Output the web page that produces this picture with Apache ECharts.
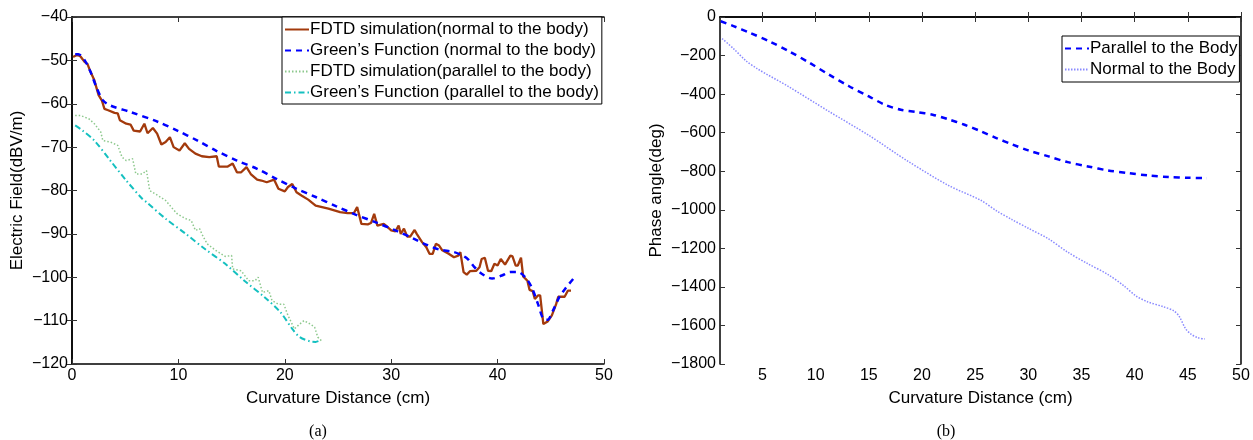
<!DOCTYPE html>
<html>
<head>
<meta charset="utf-8">
<script src="https://cdn.jsdelivr.net/npm/echarts@6/dist/echarts.min.js"></script>
<style>
  html, body { margin: 0; padding: 0; background: #fff; }
  #chart { width: 1253px; height: 440px; }
</style>
</head>
<body>
<div id="chart"></div>
<script>
  // (a) field strength, [distance cm, dBV/m]
  var fdtdNormal = [
    [0.1,-49.2],[0.5,-48.7],[0.8,-49.1],[1.2,-50.4],[1.45,-50.8],[1.75,-52.7],[2.1,-54.6],[2.5,-58],
    [2.8,-59.2],[3.05,-61.2],[3.4,-61.5],[4.0,-62.1],[4.3,-62.2],[4.5,-63.8],[5.1,-64.6],[5.5,-64.8],
    [5.8,-66.2],[6.4,-66.4],[6.8,-64.6],[7.1,-66.8],[7.6,-65.6],[8.0,-66.9],[8.4,-69.4],[8.8,-68.8],
    [9.2,-67.7],[9.55,-70],[10.1,-70.8],[10.6,-69.1],[11.0,-70.4],[11.6,-71.5],[12.2,-72.1],[12.9,-72.3],
    [13.6,-72.1],[13.8,-74.5],[14.6,-74.5],[15.1,-73.8],[15.5,-75.8],[15.9,-75.8],[16.4,-74.6],[16.8,-76.2],
    [17.4,-77.5],[17.8,-77.7],[18.3,-78.1],[19.0,-77.5],[19.4,-79.6],[20.0,-80.2],[20.3,-79.2],[20.7,-78.5],
    [21.1,-80.4],[21.6,-81.2],[22.2,-82.1],[22.9,-83.5],[24.1,-84.2],[25.2,-85],[25.9,-85.2],[26.5,-85.2],
    [26.8,-83.8],[27.2,-87.7],[27.8,-87.8],[28.1,-87.5],[28.4,-85.4],[28.7,-88.1],[29.3,-87.7],[29.6,-88.3],
    [30,-89.2],[30.4,-89.4],[30.7,-88.1],[30.9,-90],[31.2,-88.8],[31.5,-90.6],[31.8,-90.6],[32.2,-89.1],
    [32.4,-90],[32.9,-91.9],[33.3,-93.1],[33.6,-94.6],[33.9,-94.6],[34.2,-92.3],[34.5,-92.7],[34.8,-93.8],
    [35.4,-94.6],[35.9,-95.4],[36.3,-95],[36.5,-94.2],[36.8,-98.8],[37.1,-99.4],[37.4,-98.6],[38,-98.5],
    [38.3,-97.7],[38.5,-95.8],[38.8,-95.5],[39.1,-98.5],[39.4,-98.6],[39.7,-96.9],[40.0,-97.3],[40.3,-95.8],
    [40.7,-97.1],[41.2,-95],[41.4,-95.2],[41.7,-97.3],[41.9,-97.3],[42.2,-95.5],[42.4,-99.8],[42.8,-100.8],
    [43.0,-102.9],[43.3,-103.2],[43.5,-105],[43.8,-104.2],[44.0,-104.2],[44.3,-110.8],[44.7,-110.2],
    [45.1,-108.8],[45.5,-106.2],[45.7,-104.5],[46.3,-104.5],[46.6,-103.1],[46.9,-103.1]
  ];
  var greenNormal = [
    [0.3,-48.6],[0.6,-48.6],[1.2,-50],[1.75,-52.7],[2.3,-56.2],[2.9,-59.2],[3.6,-60.4],[5.5,-61.9],
    [8.1,-64.2],[9.9,-66.2],[11.8,-68.5],[13.6,-70.9],[15.5,-73.1],[17.4,-75],[19.2,-77.3],[21.1,-79.6],
    [22.9,-81.5],[24.8,-83.6],[26.7,-85.6],[28.5,-87.3],[30.4,-89.2],[32.2,-91.2],[33.3,-92.5],[34.5,-93.6],
    [35.9,-94.2],[36.7,-95],[37.2,-95.8],[37.8,-97.6],[38.5,-99.2],[39.5,-100.3],[40.4,-99.6],[41.2,-98.8],
    [41.9,-98.8],[42.6,-100],[43.2,-102.3],[43.8,-106.2],[44.3,-109.6],[44.7,-109.8],[45.2,-107.7],
    [45.8,-104.6],[46.4,-102.5],[47.1,-100.4]
  ];
  var fdtdParallel = [
    [0.3,-62.7],[0.8,-62.7],[1.6,-63.5],[2.1,-64.6],[2.7,-66.5],[2.9,-68.5],[3.6,-68.8],[4.3,-69.6],
    [4.7,-72.3],[5.1,-73.1],[5.7,-72.7],[6.0,-76.2],[6.6,-76.2],[7.0,-75.4],[7.3,-80],[8.1,-81.2],
    [8.8,-82.3],[9.6,-84.6],[9.9,-85.4],[10.7,-86.5],[11.2,-86.9],[11.6,-89.2],[12,-88.8],[12.2,-90],
    [12.7,-92.3],[13.5,-93.8],[14.4,-95.2],[15.0,-95],[15.1,-98.1],[15.9,-98.5],[16.6,-100.8],[17.2,-100.8],
    [17.5,-100],[17.9,-103.5],[18.5,-103.1],[18.8,-105.4],[19.4,-106.2],[19.9,-106.2],[20.3,-108.8],
    [20.9,-111.9],[21.4,-110.8],[21.8,-110],[22.4,-110.8],[22.8,-111.5],[23.1,-113.8],[23.5,-114.8]
  ];
  var greenParallel = [
    [0.3,-65],[1.0,-66.2],[2.1,-68.5],[3.6,-73.1],[5.1,-77.7],[6.6,-81.9],[7.0,-82.7],[8.8,-86.5],
    [10.7,-90],[12.5,-93.5],[14.4,-96.9],[16.2,-100.8],[18.1,-104.6],[19.6,-108.1],[20.7,-111.9],
    [21.4,-113.8],[22.4,-114.8],[22.9,-114.9],[23.3,-114.6]
  ];

  // (b) phase angle, [distance cm, deg]
  var phaseParallel = [
    [1.07,-22],[2.27,-47],[3.76,-81],[5.64,-126],[7.5,-178],[9.4,-237],[11.25,-299],[13.1,-358],
    [15.0,-412],[16.5,-455],[18.0,-481],[19.5,-493],[21.0,-507],[22.5,-531],[24.0,-559],[25.5,-592],
    [27.0,-628],[28.5,-661],[30.0,-692],[31.9,-723],[33.7,-753],[35.6,-775],[37.5,-796],[39.4,-810],
    [41.3,-822],[43.2,-830],[45.1,-834],[46.8,-836]
  ];
  var phaseNormal = [
    [1.2,-112],[2.27,-164],[3.4,-225],[4.5,-268],[7.5,-363],[11.25,-490],[15.0,-614],[18.7,-749],
    [22.5,-874],[25.5,-950],[27.0,-1005],[28.5,-1052],[30.0,-1096],[31.9,-1151],[33.7,-1220],
    [35.6,-1280],[37.5,-1336],[39.0,-1395],[40.1,-1446],[41.2,-1477],[42.7,-1503],[43.7,-1525],
    [44.2,-1554],[44.8,-1618],[45.3,-1645],[45.9,-1663],[46.6,-1670]
  ];

  var ticksB = [5, 10, 15, 20, 25, 30, 35, 40, 45, 50];

  var FONT = '"Liberation Sans", Arial, sans-serif';
  var minus = function (v) { return String(v).replace('-', '\u2212'); };

  var axisBase = {
    type: 'value',
    axisLine: { show: true, lineStyle: { color: '#000', width: 1.5 } },
    axisTick: { show: true, inside: true, length: 5, lineStyle: { color: '#333' } },
    splitLine: { show: false },
    axisLabel: { color: '#000', fontFamily: FONT, fontSize: 16, margin: 4, formatter: minus },
    nameTextStyle: { color: '#000', fontFamily: FONT, fontSize: 17 }
  };
  function ax(extra) { return echarts.util.merge(echarts.util.clone(axisBase), extra, true); }
  function mirror(extra) {
    return ax(echarts.util.merge({ axisLabel: { show: false } }, extra, true));
  }
  var legendBase = {
    orient: 'vertical', backgroundColor: '#fff', borderColor: '#000', borderWidth: 1, borderRadius: 0,
    itemGap: 4, itemWidth: 24, itemHeight: 17,
    itemStyle: { opacity: 0 },
    textStyle: { fontFamily: FONT, fontSize: 17, lineHeight: 17, color: '#000', padding: [0, 0, 0, -4] }
  };
  var titleStyle = { fontFamily: '"Liberation Serif", "DejaVu Serif", serif', fontSize: 16, fontWeight: 'normal', color: '#000' };

  var myChart = echarts.init(document.getElementById('chart'));
  var option = {
    animation: false,
    backgroundColor: '#fff',
    title: [
      { text: '(a)', left: 313, top: 419, textAlign: 'center', textStyle: titleStyle },
      { text: '(b)', left: 941, top: 419, textAlign: 'center', textStyle: titleStyle }
    ],
    grid: [
      { left: 72, right: 649, top: 17, bottom: 76 },
      { left: 720, right: 12, top: 17, bottom: 76 }
    ],
    legend: [
      echarts.util.merge({
        data: ['FDTD simulation(normal to the body)', 'Green\u2019s Function (normal to the body)',
               'FDTD simulation(parallel to the body)', 'Green\u2019s Function (parallel to the body)'],
        left: 282, top: 17, padding: [4, 3, 3, 2]
      }, echarts.util.clone(legendBase)),
      echarts.util.merge({
        data: ['Parallel to the Body', 'Normal to the Body'],
        left: 1062, top: 36, padding: [4, 2, 4, 2]
      }, echarts.util.clone(legendBase))
    ],
    xAxis: [
      ax({ gridIndex: 0, min: 0, max: 50, interval: 10, name: 'Curvature Distance (cm)',
           nameLocation: 'middle', nameGap: 26 }),
      mirror({ gridIndex: 0, position: 'top', min: 0, max: 50, interval: 10 }),
      ax({ gridIndex: 1, min: 1, max: 50, name: 'Curvature Distance (cm)',
           nameLocation: 'middle', nameGap: 26,
           axisTick: { customValues: ticksB }, axisLabel: { customValues: ticksB } }),
      mirror({ gridIndex: 1, position: 'top', min: 1, max: 50,
           axisTick: { customValues: ticksB }, axisLabel: { customValues: ticksB } })
    ],
    yAxis: [
      ax({ gridIndex: 0, min: -120, max: -40, interval: 10, name: 'Electric Field(dBV/m)',
           nameLocation: 'middle', nameGap: 46 }),
      mirror({ gridIndex: 0, position: 'right', min: -120, max: -40, interval: 10 }),
      ax({ gridIndex: 1, min: -1800, max: 0, interval: 200, name: 'Phase angle(deg)',
           nameLocation: 'middle', nameGap: 55 }),
      mirror({ gridIndex: 1, position: 'right', min: -1800, max: 0, interval: 200 })
    ],
    series: [
      { name: 'FDTD simulation(normal to the body)', type: 'line', xAxisIndex: 0, yAxisIndex: 0,
        data: fdtdNormal, showSymbol: false, symbol: 'none',
        lineStyle: { color: '#A33A0C', width: 2.3 }, itemStyle: { color: '#A33A0C' }, z: 3 },
      { name: 'Green\u2019s Function (normal to the body)', type: 'line', xAxisIndex: 0, yAxisIndex: 0,
        data: greenNormal, showSymbol: false, symbol: 'none', smooth: 0.3,
        lineStyle: { color: '#0000FF', width: 2.5, type: [6, 5] }, itemStyle: { color: '#0000FF' }, z: 4 },
      { name: 'FDTD simulation(parallel to the body)', type: 'line', xAxisIndex: 0, yAxisIndex: 0,
        data: fdtdParallel, showSymbol: false, symbol: 'none',
        lineStyle: { color: '#8CC88C', width: 1.5, type: [1.5, 2] }, itemStyle: { color: '#8CC88C' } },
      { name: 'Green\u2019s Function (parallel to the body)', type: 'line', xAxisIndex: 0, yAxisIndex: 0,
        data: greenParallel, showSymbol: false, symbol: 'none', smooth: 0.3,
        lineStyle: { color: '#14C0C0', width: 2, type: [6, 3, 1.5, 3] }, itemStyle: { color: '#14C0C0' } },
      { name: 'Parallel to the Body', type: 'line', xAxisIndex: 2, yAxisIndex: 2,
        data: phaseParallel, showSymbol: false, symbol: 'none', smooth: 0.3,
        lineStyle: { color: '#0000FF', width: 2.5, type: [6, 5] }, itemStyle: { color: '#0000FF' } },
      { name: 'Normal to the Body', type: 'line', xAxisIndex: 2, yAxisIndex: 2,
        data: phaseNormal, showSymbol: false, symbol: 'none', smooth: 0.3,
        lineStyle: { color: '#8A8AFF', width: 1.5, type: [1.5, 1.5] }, itemStyle: { color: '#8A8AFF' } }
    ]
  };
  myChart.setOption(option);
</script>
</body>
</html>
